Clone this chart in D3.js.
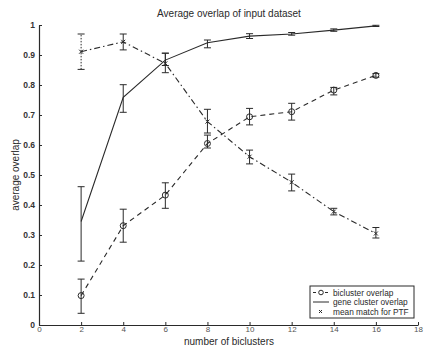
<!DOCTYPE html>
<html><head><meta charset="utf-8">
<script src="https://cdn.jsdelivr.net/npm/d3@7"></script>
<style>body{margin:0;background:#fff;}svg{display:block;font-family:"Liberation Sans",Arial,sans-serif;}</style>
</head><body>
<svg id="c" width="425" height="351"></svg>
<script>
const xs = [2,4,6,8,10,12,14,16];
const biclusterMean = [0.098,0.331,0.433,0.605,0.694,0.711,0.783,0.832];
const biclusterLo   = [0.039,0.276,0.389,0.590,0.667,0.683,0.767,0.826];
const biclusterHi   = [0.153,0.386,0.474,0.633,0.722,0.739,0.792,0.838];
const geneMean = [0.345,0.759,0.883,0.941,0.963,0.970,0.983,0.997];
const geneLo   = [0.213,0.709,0.865,0.924,0.955,0.966,0.979,0.995];
const geneHi   = [0.461,0.801,0.906,0.950,0.971,0.975,0.987,0.999];
const ptfMean = [0.911,0.944,0.872,0.678,0.561,0.476,0.378,0.305];
const ptfLo   = [0.852,0.917,0.841,0.640,0.537,0.447,0.367,0.290];
const ptfHi   = [0.970,0.970,0.906,0.719,0.583,0.503,0.389,0.325];
const xTicks = [0,2,4,6,8,10,12,14,16,18];
const yTicks = [0,0.1,0.2,0.3,0.4,0.5,0.6,0.7,0.8,0.9,1];
const legendLabels = ["bicluster overlap","gene cluster overlap","mean match for PTF"];

const svg = d3.select("#c");
const ink = "#2a2a2a";
const x = d3.scaleLinear().domain([0,18]).range([39,418]);
const y = d3.scaleLinear().domain([0,1]).range([325,25]);

// title & labels
svg.append("text").attr("x",229).attr("y",17).attr("text-anchor","middle")
  .attr("font-size",10).attr("fill",ink).text("Average overlap of input dataset");
svg.append("text").attr("x",229).attr("y",345).attr("text-anchor","middle")
  .attr("font-size",10).attr("fill",ink).text("number of biclusters");
svg.append("text").attr("transform","translate(19,175) rotate(-90)").attr("text-anchor","middle")
  .attr("font-size",10).attr("fill",ink).text("average overlap");

// axes
const xAxis = svg.append("g").attr("transform",`translate(0,${y(0)})`)
  .call(d3.axisBottom(x).tickValues(xTicks).tickSizeInner(-3).tickSizeOuter(0).tickPadding(1).tickFormat(d3.format("d")));
const yAxis = svg.append("g").attr("transform",`translate(${x(0)},0)`)
  .call(d3.axisLeft(y).tickValues(yTicks).tickSizeInner(-3).tickSizeOuter(0).tickPadding(4).tickFormat(d=>d===0?"0":(d===1?"1":d3.format(".1f")(d))));
[xAxis,yAxis].forEach(g=>{
  g.select(".domain").attr("stroke",ink).attr("stroke-width",1.2);
  g.selectAll(".tick line").attr("stroke",ink);
  g.selectAll(".tick text").attr("fill",ink).attr("font-size",8.5).attr("font-family","Liberation Sans,Arial,sans-serif");
});
xAxis.selectAll(".tick text").attr("fill","#555").attr("font-size",8);
yAxis.selectAll(".tick text").attr("font-weight","bold").attr("fill","#333");

const series = [
  {mean:biclusterMean, lo:biclusterLo, hi:biclusterHi, dash:"5,4", marker:"circle"},
  {mean:geneMean, lo:geneLo, hi:geneHi, dash:null, marker:null},
  {mean:ptfMean, lo:ptfLo, hi:ptfHi, dash:"6,3,1.5,3", marker:"x"}
];
const line = d3.line().x(d=>x(d[0])).y(d=>y(d[1]));
series.forEach((s,si)=>{
  const pts = xs.map((v,i)=>[v,s.mean[i]]);
  svg.append("path").datum(pts).attr("d",line).attr("fill","none")
    .attr("stroke",ink).attr("stroke-width",1.1).attr("stroke-dasharray",s.dash);
  const g = svg.append("g");
  xs.forEach((v,i)=>{
    const cx = x(v);
    g.append("line").attr("x1",cx).attr("x2",cx).attr("y1",y(s.lo[i])).attr("y2",y(s.hi[i]))
      .attr("stroke",ink).attr("stroke-width",1).attr("stroke-dasharray",(si===2&&i===0)?"1.5,1.5":null);
    [s.lo[i],s.hi[i]].forEach(e=>{
      g.append("line").attr("x1",cx-3.5).attr("x2",cx+3.5).attr("y1",y(e)).attr("y2",y(e))
        .attr("stroke",ink).attr("stroke-width",1);
    });
    if(s.marker==="circle"){
      g.append("circle").attr("cx",cx).attr("cy",y(s.mean[i])).attr("r",3)
        .attr("fill","none").attr("stroke",ink).attr("stroke-width",1);
    } else if(s.marker==="x"){
      const cy=y(s.mean[i]);
      g.append("path").attr("d",`M${cx-2},${cy-2}L${cx+2},${cy+2}M${cx-2},${cy+2}L${cx+2},${cy-2}`)
        .attr("stroke",ink).attr("stroke-width",1);
    }
  });
});

// legend
const lg = svg.append("g");
lg.append("rect").attr("x",310).attr("y",286).attr("width",104).attr("height",32)
  .attr("fill","#fff").attr("stroke",ink).attr("stroke-width",1);
const ly = [292.5,302,311.5];
legendLabels.forEach((t,i)=>{
  if(i===0){
    lg.append("line").attr("x1",313).attr("x2",329).attr("y1",ly[i]).attr("y2",ly[i]).attr("stroke",ink).attr("stroke-dasharray","3,3");
    lg.append("circle").attr("cx",321).attr("cy",ly[i]).attr("r",2.3).attr("fill","#fff").attr("stroke",ink);
  } else if(i===1){
    lg.append("line").attr("x1",313).attr("x2",329).attr("y1",ly[i]).attr("y2",ly[i]).attr("stroke",ink);
  } else {
    lg.append("path").attr("d",`M${319},${ly[i]-1.5}L${322},${ly[i]+1.5}M${319},${ly[i]+1.5}L${322},${ly[i]-1.5}`).attr("stroke",ink);
  }
  lg.append("text").attr("x",333).attr("y",ly[i]+3).attr("font-size",8.3).attr("fill",ink).text(t);
});
</script>
</body></html>
